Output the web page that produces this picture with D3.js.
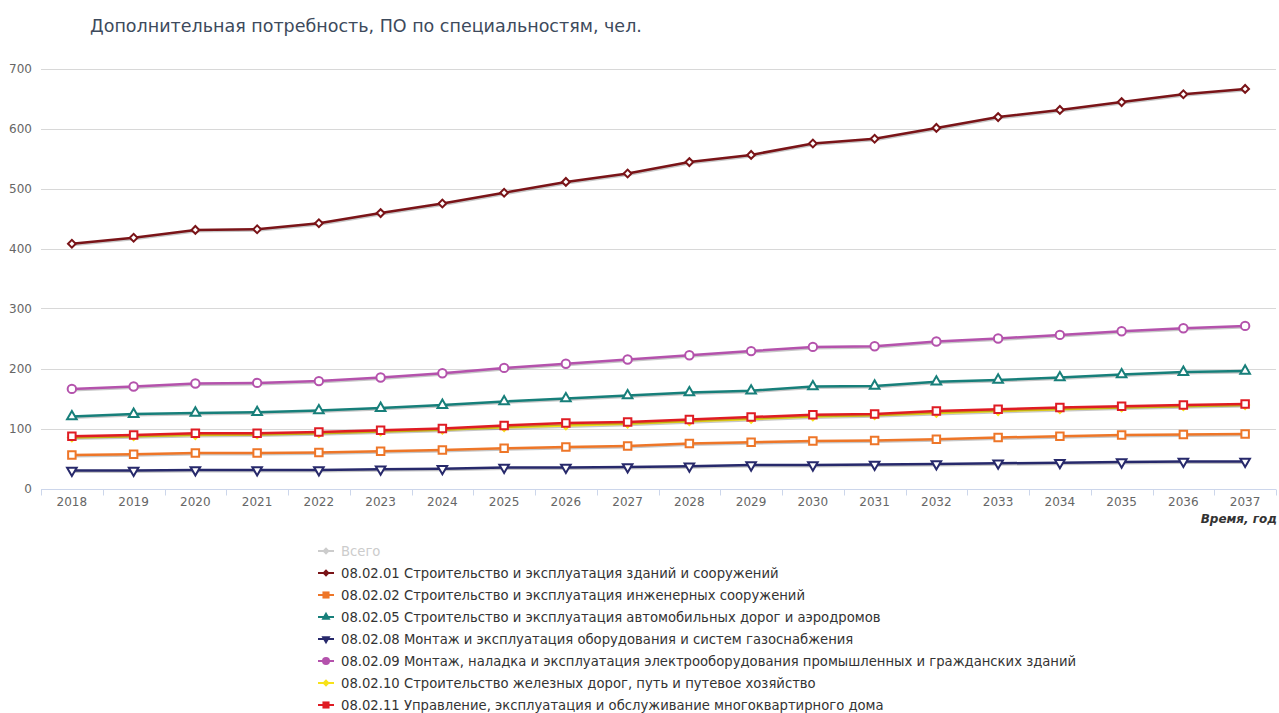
<!DOCTYPE html>
<html>
<head>
<meta charset="utf-8">
<script src="https://cdn.jsdelivr.net/npm/d3@7"></script>
<style>
  body { margin: 0; background: #fff; }
  text { font-family: "DejaVu Sans", sans-serif; }
</style>
</head>
<body>
<div id="graph"></div>
<script>
var years = ["2018","2019","2020","2021","2022","2023","2024","2025","2026","2027","2028","2029","2030","2031","2032","2033","2034","2035","2036","2037"];
var yTicks = [0, 100, 200, 300, 400, 500, 600, 700];

var s_080201 = [408,418,431,432,442,459,475,493,511,525,544,556,575,583,601,619,631,644,657,666];
var s_080202 = [56,57,59,59,60,62,64,67,69,71,75,77,79,80,82,85,87,89,90,91];
var s_080205 = [120,124,126,127,130,134,139,145,150,155,160,163,170,171,178,181,185,190,194,196];
var s_080208 = [30,30,31,31,31,32,33,35,35,36,37,39,39,40,41,42,43,44,45,45];
var s_080209 = [166,170,175,176,179,185,192,201,208,215,222,229,236,237,245,250,256,262,267,271];
var s_080210 = [85,87,89,90,92,95,98,102,105,108,112,116,120,122,126,129,132,135,137,139];
var s_080211 = [87,89,92,92,94,97,100,105,109,111,115,119,123,124,129,132,135,137,139,141];

var legendNames = [
  "Всего",
  "08.02.01 Строительство и эксплуатация зданий и сооружений",
  "08.02.02 Строительство и эксплуатация инженерных сооружений",
  "08.02.05 Строительство и эксплуатация автомобильных дорог и аэродромов",
  "08.02.08 Монтаж и эксплуатация оборудования и систем газоснабжения",
  "08.02.09 Монтаж, наладка и эксплуатация электрооборудования промышленных и гражданских зданий",
  "08.02.10 Строительство железных дорог, путь и путевое хозяйство",
  "08.02.11 Управление, эксплуатация и обслуживание многоквартирного дома"
];

// marker: diamond = square turned 45deg, tri = triangle, tridown = flipped triangle
var series = [
  {values: null,     color: "#cccccc", marker: "diamond", hidden: true},
  {values: s_080201, color: "#7a1418", marker: "diamond"},
  {values: s_080202, color: "#ee7628", marker: "square"},
  {values: s_080205, color: "#177f7a", marker: "tri"},
  {values: s_080208, color: "#27296b", marker: "tridown"},
  {values: s_080209, color: "#b452ac", marker: "circle"},
  {values: s_080210, color: "#f7e21a", marker: "diamond"},
  {values: s_080211, color: "#df1c24", marker: "square"}
];
series.forEach(function(s, i) { s.name = legendNames[i]; });

var markerType = {
  diamond: {type: d3.symbolSquare, rot: 45, size: 30},
  square: {type: d3.symbolSquare, rot: 0, size: 56},
  tri: {type: d3.symbolTriangle, rot: 0, size: 40},
  tridown: {type: d3.symbolTriangle, rot: 180, size: 40},
  circle: {type: d3.symbolCircle, rot: 0, size: 56}
};

var width = 1279, height = 713;

var svg = d3.select("#graph").append("svg")
  .attr("width", width)
  .attr("height", height);

var x = d3.scaleBand().domain(years).range([41, 1276]);
var y = d3.scaleLinear().domain([0, 700]).range([488.5, 68.5]);

// title
svg.append("text")
  .attr("x", 90).attr("y", 32)
  .attr("fill", "#3d4a5c")
  .attr("font-size", 17.5)
  .text("Дополнительная потребность, ПО по специальностям, чел.");

// gridlines
svg.append("g")
  .selectAll("line")
  .data(yTicks.slice(1))
  .enter().append("line")
  .attr("x1", 41).attr("x2", 1276)
  .attr("y1", function(d) { return Math.round(y(d)) + 0.5; })
  .attr("y2", function(d) { return Math.round(y(d)) + 0.5; })
  .attr("stroke", "#d8d8d8");

// y labels
svg.append("g")
  .selectAll("text")
  .data(yTicks)
  .enter().append("text")
  .attr("x", 32)
  .attr("y", function(d) { return y(d) + 4; })
  .attr("text-anchor", "end")
  .attr("font-size", 12)
  .attr("fill", "#666")
  .text(function(d) { return d; });

// x axis
var xAxis = svg.append("g")
  .attr("transform", "translate(0," + (Math.round(y(0)) + 0.5) + ")");
xAxis.append("line")
  .attr("x1", 41).attr("x2", 1276)
  .attr("stroke", "#ccd6eb");
xAxis.selectAll(".tick")
  .data(years.concat(["end"]))
  .enter().append("line")
  .attr("x1", function(d, i) { return Math.round(41 + i * x.bandwidth()) + 0.5; })
  .attr("x2", function(d, i) { return Math.round(41 + i * x.bandwidth()) + 0.5; })
  .attr("y1", 0).attr("y2", 6)
  .attr("stroke", "#ccd6eb");
xAxis.selectAll("text")
  .data(years)
  .enter().append("text")
  .attr("x", function(d) { return x(d) + x.bandwidth() / 2; })
  .attr("y", 16)
  .attr("text-anchor", "middle")
  .attr("font-size", 12)
  .attr("fill", "#666")
  .text(function(d) { return d; });

svg.append("text")
  .attr("x", 1277).attr("y", 523)
  .attr("text-anchor", "end")
  .attr("font-size", 12)
  .attr("font-weight", "bold")
  .attr("font-style", "italic")
  .attr("fill", "#333")
  .text("Время, год");

var line = d3.line()
  .x(function(d, i) { return x(years[i]) + x.bandwidth() / 2; })
  .y(function(d) { return y(d); });

function symbolPath(s, scale) {
  var m = markerType[s.marker];
  return d3.symbol().type(m.type).size(m.size * (scale || 1))();
}

series.filter(function(s) { return !s.hidden; }).forEach(function(s) {
  var g = svg.append("g");
  var m = markerType[s.marker];
  // shadow
  g.append("path")
    .attr("d", line(s.values))
    .attr("fill", "none")
    .attr("stroke", "rgba(0,0,0,0.22)")
    .attr("stroke-width", 3)
    .attr("transform", "translate(1,1)");
  g.append("path")
    .attr("d", line(s.values))
    .attr("fill", "none")
    .attr("stroke", s.color)
    .attr("stroke-width", 2.5);
  g.selectAll(".pt")
    .data(s.values)
    .enter().append("path")
    .attr("d", symbolPath(s))
    .attr("transform", function(d, i) {
      return "translate(" + (x(years[i]) + x.bandwidth() / 2) + "," + y(d) + ") rotate(" + m.rot + ")";
    })
    .attr("fill", "#fff")
    .attr("stroke", s.color)
    .attr("stroke-width", 2);
});

// legend
var legend = svg.append("g");
series.forEach(function(s, i) {
  var ly = 551 + i * 22;
  var m = markerType[s.marker];
  var g = legend.append("g").attr("transform", "translate(318," + ly + ")");
  g.append("line")
    .attr("x1", 0).attr("x2", 16)
    .attr("stroke", s.color)
    .attr("stroke-width", 2);
  g.append("path")
    .attr("d", symbolPath(s, 0.9))
    .attr("transform", "translate(8,0) rotate(" + m.rot + ")")
    .attr("fill", s.color);
  g.append("text")
    .attr("x", 23).attr("y", 5)
    .attr("font-size", 13.2)
    .attr("fill", s.hidden ? "#cccccc" : "#333")
    .text(s.name);
});
</script>
</body>
</html>
